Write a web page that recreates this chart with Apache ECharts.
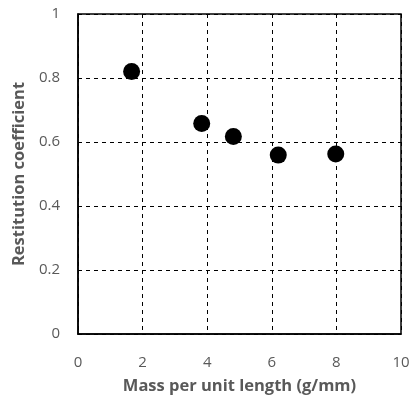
<!DOCTYPE html>
<html>
<head>
<meta charset="utf-8">
<script src="https://cdn.jsdelivr.net/npm/echarts@6/dist/echarts.min.js"></script>
<style>html,body{margin:0;padding:0;background:#fff;}#c{width:415px;height:399px;}</style>
</head>
<body>
<div id="c"></div>
<script>
var massValues = [1.66, 3.83, 4.81, 6.2, 7.98];
var restitutionValues = [0.82, 0.658, 0.617, 0.559, 0.5625];
var xAxisTitle = 'Mass per unit length (g/mm)';
var yAxisTitle = 'Restitution coefficient';

var chart = echarts.init(document.getElementById('c'), null, {renderer: 'canvas'});
var pts = massValues.map(function (x, i) { return [x, restitutionValues[i]]; });
var labelStyle = {color: '#595959', fontSize: 15, fontFamily: 'Open Sans'};
var nameStyle = {color: '#595959', fontSize: 16.5, fontWeight: 'bold', fontFamily: 'Open Sans'};
chart.setOption({
  animation: false,
  backgroundColor: '#fff',
  grid: {left: 78, right: 14, top: 14, bottom: 65, containLabel: false, outerBoundsMode: 'none', show: true, borderColor: '#000', borderWidth: 1.5, backgroundColor: 'transparent'},
  xAxis: {
    type: 'value', min: 0, max: 10, interval: 2,
    name: xAxisTitle, nameLocation: 'middle', nameGap: 44,
    nameTextStyle: nameStyle,
    axisLine: {show: true, lineStyle: {color: '#000', width: 1.5}},
    axisTick: {show: false},
    axisLabel: Object.assign({margin: 21}, labelStyle),
    splitLine: {show: true, lineStyle: {color: '#000', type: [4, 4], width: 1}}
  },
  yAxis: {
    type: 'value', min: 0, max: 1, interval: 0.2,
    name: yAxisTitle, nameLocation: 'middle', nameGap: 43,
    nameTextStyle: nameStyle,
    axisLine: {show: true, lineStyle: {color: '#000', width: 1.5}},
    axisTick: {show: false},
    axisLabel: Object.assign({margin: 18, formatter: function (v) { return String(+v.toFixed(1)); }}, labelStyle),
    splitLine: {show: true, lineStyle: {color: '#000', type: [4, 4], width: 1}}
  },
  series: [{
    type: 'scatter',
    data: pts,
    symbol: 'circle',
    symbolSize: 17,
    itemStyle: {color: '#000', opacity: 1}
  }]
});
</script>
</body>
</html>
